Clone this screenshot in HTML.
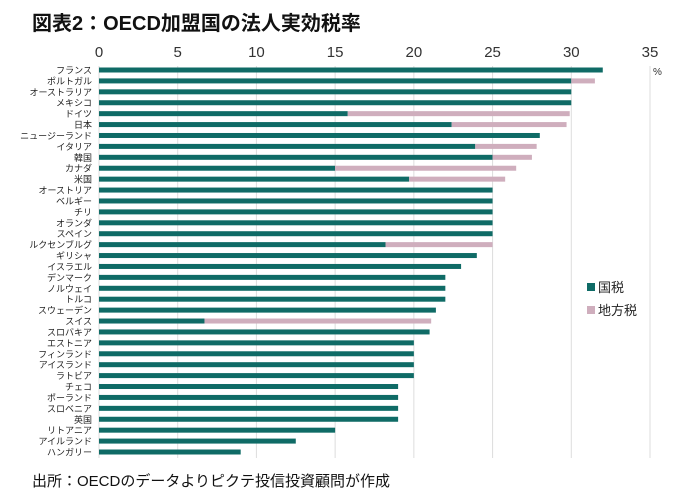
<!DOCTYPE html>
<html><head><meta charset="utf-8"><style>
body{margin:0;background:#fff;width:680px;height:492px;overflow:hidden;font-family:"Liberation Sans","Noto Sans CJK JP",sans-serif;}
</style></head><body>
<svg width="680" height="492">
<text x="32" y="30" font-size="20" font-weight="bold" fill="#111">図表2：OECD加盟国の法人実効税率</text>
<g id="grid"></g>
<g id="xt"></g>
<g id="bars"></g>
<g id="yl"></g>
<text x="653" y="75" font-size="10" fill="#333">%</text>
<g>
<rect x="587" y="283" width="8" height="8" fill="#0f6b66"/>
<text x="598" y="292" font-size="13" fill="#222">国税</text>
<rect x="587" y="306" width="8" height="8" fill="#cfaebd"/>
<text x="598" y="315" font-size="13" fill="#222">地方税</text>
</g>
<text x="32" y="486" font-size="15" fill="#111">出所：OECDのデータよりピクテ投信投資顧問が作成</text>
</svg>
<script>
const countries=["フランス","ポルトガル","オーストラリア","メキシコ","ドイツ","日本","ニュージーランド","イタリア","韓国","カナダ","米国","オーストリア","ベルギー","チリ","オランダ","スペイン","ルクセンブルグ","ギリシャ","イスラエル","デンマーク","ノルウェイ","トルコ","スウェーデン","スイス","スロバキア","エストニア","フィンランド","アイスランド","ラトビア","チェコ","ポーランド","スロベニア","英国","リトアニア","アイルランド","ハンガリー"];
const national=[32.0,30,30,30,15.8,22.4,28.0,23.9,25.0,15.0,19.7,25,25,25,25,25,18.2,24.0,23.0,22,22,22,21.4,6.7,21.0,20,20,20,20,19,19,19,19,15,12.5,9.0];
const local=[0,1.5,0,0,14.1,7.3,0,3.9,2.5,11.5,6.1,0,0,0,0,0,6.8,0,0,0,0,0,0,14.4,0,0,0,0,0,0,0,0,0,0,0,0];
const ticks=[0,5,10,15,20,25,30,35];
const NS="http://www.w3.org/2000/svg";
const x=v=>99+v*(551/35);
const y=i=>70+i*(382/35);
function mk(t,a,p){const e=document.createElementNS(NS,t);for(const k in a)e.setAttribute(k,a[k]);document.getElementById(p).appendChild(e);return e;}
ticks.forEach(t=>{
 const l=mk('line',{x1:x(t),x2:x(t),y1:66,y2:458,stroke:'#ddd','stroke-width':1},'grid');
 
 
 const tx=mk('text',{x:x(t),y:57,'font-size':15,'text-anchor':'middle',fill:'#333'},'xt');
 tx.textContent=t;
 
 
});
countries.forEach((c,i)=>{
 const r=mk('rect',{x:x(0),y:y(i)-2.5,width:x(national[i])-x(0),height:5,fill:'#0f6b66'},'bars');
 
 
 if(local[i]>0){
  const r2=mk('rect',{x:x(national[i]),y:y(i)-2.5,width:x(national[i]+local[i])-x(national[i]),height:5,fill:'#cfaebd'},'bars');
  
  
 }
 const t=mk('text',{x:92,y:y(i)+3.5,'font-size':9,'text-anchor':'end',fill:'#222'},'yl');
 t.textContent=c;
 
 
});
</script>
</body></html>
